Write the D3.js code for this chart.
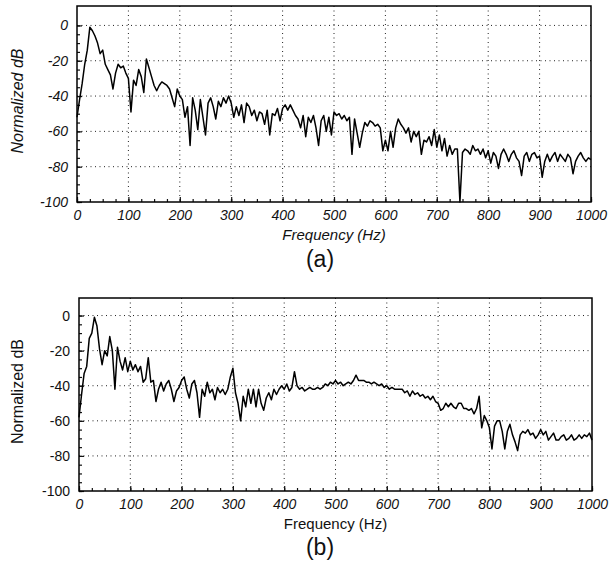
<!DOCTYPE html>
<html>
<head>
<meta charset="utf-8">
<script src="https://cdn.jsdelivr.net/npm/d3@7"></script>
<style>
  body { margin: 0; background: #fff; }
  svg { display: block; font-family: "Liberation Sans", Arial, sans-serif; }
</style>
</head>
<body>
<div id="chart"></div>
<script>
// spectra sampled every 5 Hz from 0 to 1000 Hz
const freqStep = 5;
const hzTicks = [0, 100, 200, 300, 400, 500, 600, 700, 800, 900, 1000];
const dbTicks = [-100, -80, -60, -40, -20, 0];

const dbA = [
  -52, -42, -33, -22, -14, -1, -3, -6, -10, -16, -14, -22, -25, -28, -36, -27, -22, -24, -23, -27,
  -30, -49, -31, -34, -25, -29, -38, -19, -24, -29, -34, -37, -34, -32, -33, -34, -36, -41, -46, -36,
  -40, -42, -52, -46, -68, -41, -48, -59, -42, -52, -62, -44, -41, -46, -53, -43, -46, -41, -44, -40,
  -44, -52, -46, -51, -45, -55, -44, -46, -51, -48, -54, -49, -50, -56, -48, -62, -50, -51, -47, -54,
  -47, -45, -48, -45, -48, -51, -53, -58, -51, -63, -52, -55, -51, -58, -68, -54, -51, -60, -52, -62,
  -49, -51, -50, -53, -51, -54, -52, -73, -53, -61, -69, -61, -55, -57, -54, -55, -57, -56, -58, -71,
  -65, -71, -60, -69, -58, -53, -56, -58, -61, -58, -66, -60, -63, -60, -73, -65, -66, -63, -68, -59,
  -69, -62, -71, -64, -74, -68, -73, -70, -70, -100, -72, -70, -71, -73, -68, -71, -70, -73, -70, -75,
  -71, -78, -72, -74, -81, -73, -70, -73, -77, -73, -71, -75, -77, -85, -74, -72, -77, -73, -72, -75,
  -74, -86, -77, -73, -77, -74, -72, -77, -73, -75, -77, -73, -75, -84, -77, -74, -72, -75, -77, -75,
  -76
];

const dbB = [
  -58, -45, -33, -29, -13, -10, -1, -6, -19, -28, -20, -23, -12, -20, -42, -18, -26, -31, -24, -32,
  -26, -31, -28, -32, -29, -38, -36, -24, -38, -37, -49, -42, -38, -43, -39, -37, -42, -49, -43, -41,
  -37, -35, -42, -47, -39, -37, -44, -58, -42, -46, -38, -44, -42, -48, -41, -44, -42, -45, -42, -35,
  -30, -44, -50, -60, -46, -52, -42, -50, -42, -52, -42, -50, -54, -47, -44, -48, -42, -45, -42, -40,
  -42, -39, -43, -41, -32, -40, -42, -41, -43, -42, -41, -42, -42, -41, -42, -41, -39, -40, -38, -39,
  -37, -39, -38, -40, -39, -38, -39, -37, -34, -37, -37, -37, -38, -38, -39, -38, -39, -40, -39, -41,
  -40, -42, -41, -42, -42, -42, -42, -44, -43, -46, -43, -45, -44, -46, -45, -47, -46, -48, -46, -49,
  -50, -54, -53, -50, -52, -50, -52, -53, -50, -50, -53, -53, -54, -53, -56, -53, -46, -64, -57, -60,
  -64, -76, -63, -60, -60, -66, -76, -66, -62, -68, -72, -77, -68, -66, -67, -65, -68, -67, -70, -68,
  -65, -68, -66, -71, -69, -67, -71, -71, -69, -68, -71, -70, -68, -71, -70, -68, -70, -68, -69, -67,
  -71
];

const panels = [
  { values: dbA, caption: "(a)", left: 77, right: 591, top: 6, bottom: 202, yMax: 11,
    italicY: true, italicX: true, italicTitle: true, captionY: 267 },
  { values: dbB, caption: "(b)", left: 79, right: 592, top: 298, bottom: 491, yMax: 10,
    italicY: false, italicX: true, italicTitle: false, captionY: 555 }
];

const svg = d3.select("#chart").append("svg")
    .attr("width", 612)
    .attr("height", 562);

panels.forEach(p => {
    const x = d3.scaleLinear().domain([0, 1000]).range([p.left, p.right]);
    const y = d3.scaleLinear().domain([-100, p.yMax]).range([p.bottom, p.top]);
    const g = svg.append("g");

    // dotted grid
    g.append("g").selectAll("line")
        .data(hzTicks.slice(1, -1))
        .join("line")
        .attr("x1", d => x(d)).attr("x2", d => x(d))
        .attr("y1", p.top).attr("y2", p.bottom)
        .attr("stroke", "#222").attr("stroke-width", 1)
        .attr("stroke-dasharray", "1,3.5");
    g.append("g").selectAll("line")
        .data(dbTicks.slice(1))
        .join("line")
        .attr("x1", p.left).attr("x2", p.right)
        .attr("y1", d => y(d)).attr("y2", d => y(d))
        .attr("stroke", "#222").attr("stroke-width", 1)
        .attr("stroke-dasharray", "1,3.5");

    // minor ticks, pointing inward
    g.append("g")
        .attr("transform", `translate(0,${p.bottom})`)
        .call(d3.axisBottom(x).tickValues(d3.range(0, 1001, 25)).tickSize(-3).tickFormat(""))
        .call(a => a.select(".domain").remove());
    g.append("g")
        .attr("transform", `translate(${p.left},0)`)
        .call(d3.axisLeft(y).tickValues(d3.range(-100, 1, 5)).tickSize(-3).tickFormat(""))
        .call(a => a.select(".domain").remove());

    // major ticks with labels
    const xAxis = g.append("g")
        .attr("transform", `translate(0,${p.bottom})`)
        .call(d3.axisBottom(x).tickValues(hzTicks).tickSize(-5).tickPadding(8).tickFormat(d => String(d)));
    xAxis.select(".domain").remove();
    xAxis.selectAll("text")
        .attr("font-size", 14).attr("font-style", p.italicX ? "italic" : "normal").attr("fill", "#111")
        .attr("font-family", "Liberation Sans, Arial, sans-serif");

    const yAxis = g.append("g")
        .attr("transform", `translate(${p.left},0)`)
        .call(d3.axisLeft(y).tickValues(dbTicks).tickSize(-5).tickPadding(9).tickFormat(d => String(d)));
    yAxis.select(".domain").remove();
    yAxis.selectAll("text")
        .attr("font-size", 14).attr("font-style", p.italicY ? "italic" : "normal").attr("fill", "#111")
        .attr("font-family", "Liberation Sans, Arial, sans-serif");
    g.selectAll(".tick line").attr("stroke", "#111").attr("stroke-width", 1.2);

    // spectrum
    const line = d3.line()
        .x((d, i) => x(i * freqStep))
        .y(d => y(d));
    g.append("path")
        .datum(p.values)
        .attr("d", line)
        .attr("fill", "none")
        .attr("stroke", "#000")
        .attr("stroke-width", 1.5)
        .attr("stroke-linejoin", "round");

    // frame
    g.append("rect")
        .attr("x", p.left).attr("y", p.top)
        .attr("width", p.right - p.left).attr("height", p.bottom - p.top)
        .attr("fill", "none").attr("stroke", "#000").attr("stroke-width", 1.5);

    // labels
    g.append("text")
        .attr("x", (p.left + p.right) / 2).attr("y", p.bottom + 38)
        .attr("text-anchor", "middle").attr("font-size", 15)
        .attr("font-style", p.italicTitle ? "italic" : "normal")
        .attr("fill", "#111")
        .text("Frequency (Hz)");
    g.append("text")
        .attr("transform", `translate(23,${(p.top + p.bottom) / 2 - 3}) rotate(-90)`)
        .attr("text-anchor", "middle").attr("font-size", 16)
        .attr("font-style", p.italicY ? "italic" : "normal")
        .attr("fill", "#111")
        .text("Normalized dB");
    g.append("text")
        .attr("x", 320).attr("y", p.captionY)
        .attr("text-anchor", "middle").attr("font-size", 23)
        .attr("fill", "#111")
        .text(p.caption);
});
</script>
</body>
</html>
